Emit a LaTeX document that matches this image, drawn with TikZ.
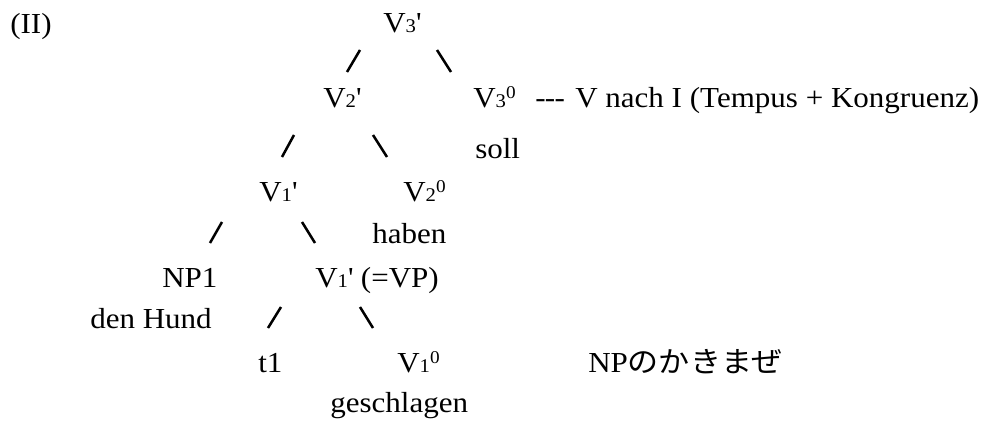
\documentclass[tikz,border=0pt]{standalone}
\usepackage{fontspec}
\setmainfont{Liberation Serif}[FakeStretch=1.07]
\newfontfamily\jpfont{Noto Sans CJK JP}[FakeStretch=1.07]
\newcommand\lowdig[1]{{\fontsize{14.5}{15}\selectfont #1}}
\newcommand\supdig[1]{\raisebox{6.2pt}{\fontsize{13.5}{14}\selectfont #1}}
\newcommand\pr{\textquotesingle}
\begin{document}
\begin{tikzpicture}[x=0.75pt,y=-0.75pt,
  lbl/.style={inner sep=0pt, anchor=base west, font=\fontsize{21.75}{26}\selectfont},
  slashline/.style={line width=1.9pt, line cap=butt}]
\useasboundingbox (0,0) rectangle (999,421);
% labels
\node[lbl] (ii)    at (10,33)  {(II)};
\node[lbl] (v3p)   at (383,32) {V\lowdig{3}\pr};
\node[lbl] (v2p)   at (323,107) {V\lowdig{2}\pr};
\node[lbl] (v30)   at (473,107) {V\lowdig{3}\supdig{0}};
\node[lbl] (dash)  at (535,107) {-\kern-0.5pt-\kern-0.5pt-};
\node[lbl] (note)  at (575,107) {V nach I (Tempus + Kongruenz)};
\node[lbl] (soll)  at (475,158) {soll};
\node[lbl] (v1p)   at (259,201) {V\lowdig{1}\pr};
\node[lbl] (v20)   at (403,201) {V\lowdig{2}\supdig{0}};
\node[lbl] (haben) at (372,243) {haben};
\node[lbl] (np1)   at (162,287) {NP1};
\node[lbl] (v1vp)  at (315,287) {V\lowdig{1}\pr{} (=VP)};
\node[lbl] (hund)  at (90,328)  {den Hund};
\node[lbl] (t1)    at (258,372) {t1};
\node[lbl] (v10)   at (397,372) {V\lowdig{1}\supdig{0}};
\node[lbl] (kaki)  at (588,372) {NP{\jpfont のかきまぜ}};
\node[lbl] (gesch) at (330,412) {geschlagen};
% slash marks
\coordinate (a1) at (347,72);  \coordinate (a2) at (360,50);
\coordinate (b1) at (437,50);  \coordinate (b2) at (451,72);
\coordinate (c1) at (282,157); \coordinate (c2) at (294,135);
\coordinate (d1) at (373,135); \coordinate (d2) at (387,157);
\coordinate (e1) at (210,243); \coordinate (e2) at (222,222);
\coordinate (f1) at (302,222); \coordinate (f2) at (315,243);
\coordinate (g1) at (268,328); \coordinate (g2) at (281,307);
\coordinate (h1) at (360,307); \coordinate (h2) at (373,328);
\draw[slashline] (a1) -- (a2);
\draw[slashline] (b1) -- (b2);
\draw[slashline] (c1) -- (c2);
\draw[slashline] (d1) -- (d2);
\draw[slashline] (e1) -- (e2);
\draw[slashline] (f1) -- (f2);
\draw[slashline] (g1) -- (g2);
\draw[slashline] (h1) -- (h2);
\end{tikzpicture}
\end{document}
